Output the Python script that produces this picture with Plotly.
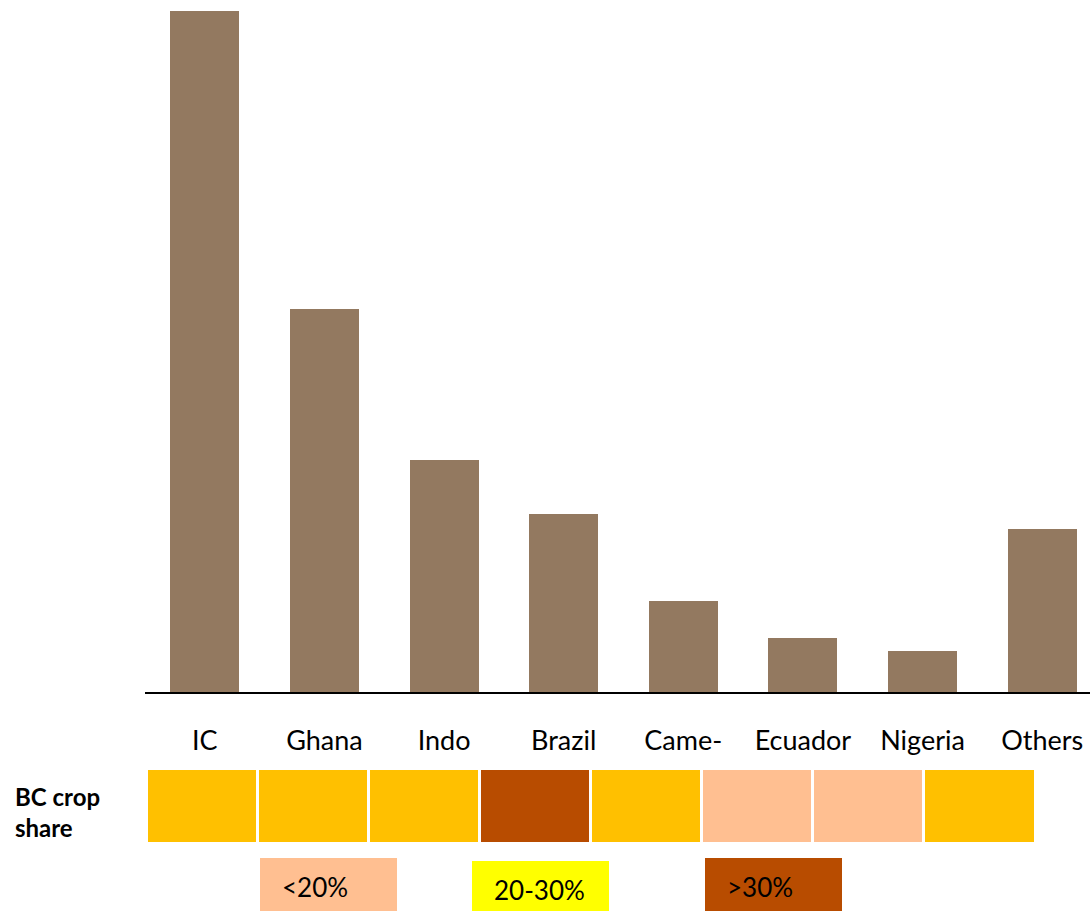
import plotly.graph_objects as go

# Cocoa output by origin (thousand tonnes) and the share class of each origin
countries = ["IC", "Ghana", "Indo", "Brazil", "Came-", "Ecuador", "Nigeria", "Others"]
production = [1700, 955, 580, 445, 227, 135, 102, 406]
share_class = ["20-30%", "20-30%", "20-30%", ">30%", "20-30%", "<20%", "<20%", "20-30%"]

# Key entries shown under the strip
key_labels = ["<20%", "20-30%", ">30%"]

W, H = 1090, 911
FONT = "Lato, 'Open Sans', sans-serif"

BAR_COLOR = "#937960"
strip_colors = {"<20%": "#FFBF91", "20-30%": "#FFC000", ">30%": "#B84C00"}
key_colors = {"<20%": "#FFBF91", "20-30%": "#FFFF00", ">30%": "#B84C00"}


def px_x(x):
    return x / W


def px_y(y):
    return 1 - y / H


fig = go.Figure()

# Main bars
fig.add_trace(go.Bar(
    x=countries, y=production, marker=dict(color=BAR_COLOR, line=dict(width=0)),
    width=0.577, xaxis="x", yaxis="y", showlegend=False, hoverinfo="x+y",
))

# Share strip: one cell per origin
fig.add_trace(go.Bar(
    x=list(range(len(countries))), y=[1] * len(countries),
    marker=dict(color=[strip_colors[c] for c in share_class], line=dict(width=0)),
    width=0.973, xaxis="x2", yaxis="y2", showlegend=False, hoverinfo="text",
    hovertext=[f"{n}: {c}" for n, c in zip(countries, share_class)],
))

ymax = max(production) * 692 / 681

fig.update_layout(
    width=W, height=H,
    margin=dict(l=0, r=0, t=0, b=0),
    paper_bgcolor="white", plot_bgcolor="white",
    font=dict(family=FONT, color="black"),
    bargap=0,
    xaxis=dict(
        domain=[px_x(145), 1], range=[-0.5, 7.4],
        showline=True, linecolor="black", linewidth=2,
        showgrid=False, zeroline=False, ticks="",
        tickfont=dict(size=27, family=FONT, color="black"),
        ticklabelstandoff=24,
    ),
    yaxis=dict(
        domain=[px_y(692), 1], range=[0, ymax],
        showline=False, showgrid=False, zeroline=False,
        showticklabels=False, ticks="",
    ),
    xaxis2=dict(
        domain=[px_x(145.5), px_x(1034.5)], range=[-0.5, 7.5],
        anchor="y2", visible=False,
    ),
    yaxis2=dict(
        domain=[px_y(842), px_y(770)], range=[0, 1],
        anchor="x2", visible=False,
    ),
)

# Row label for the strip
fig.add_annotation(
    x=px_x(13), y=px_y(812), xref="paper", yref="paper",
    xanchor="left", yanchor="middle", align="left", showarrow=False,
    text="<b>BC crop<br>share</b>",
    font=dict(size=24, family=FONT, color="black"),
)

# Key swatches with their labels
key_boxes = [(260, 397, 858), (472, 609, 861), (705, 842, 858)]
for label, (x0, x1, y0) in zip(key_labels, key_boxes):
    fig.add_shape(
        type="rect", xref="paper", yref="paper",
        x0=px_x(x0), x1=px_x(x1), y0=px_y(y0), y1=0,
        fillcolor=key_colors[label], line=dict(width=0), layer="below",
    )
    fig.add_annotation(
        x=px_x(x0 + 20), y=px_y(y0 + 29), xref="paper", yref="paper",
        xanchor="left", yanchor="middle", showarrow=False, text=label,
        font=dict(size=26, family=FONT, color="black"),
    )

fig.write_html("out.html")
